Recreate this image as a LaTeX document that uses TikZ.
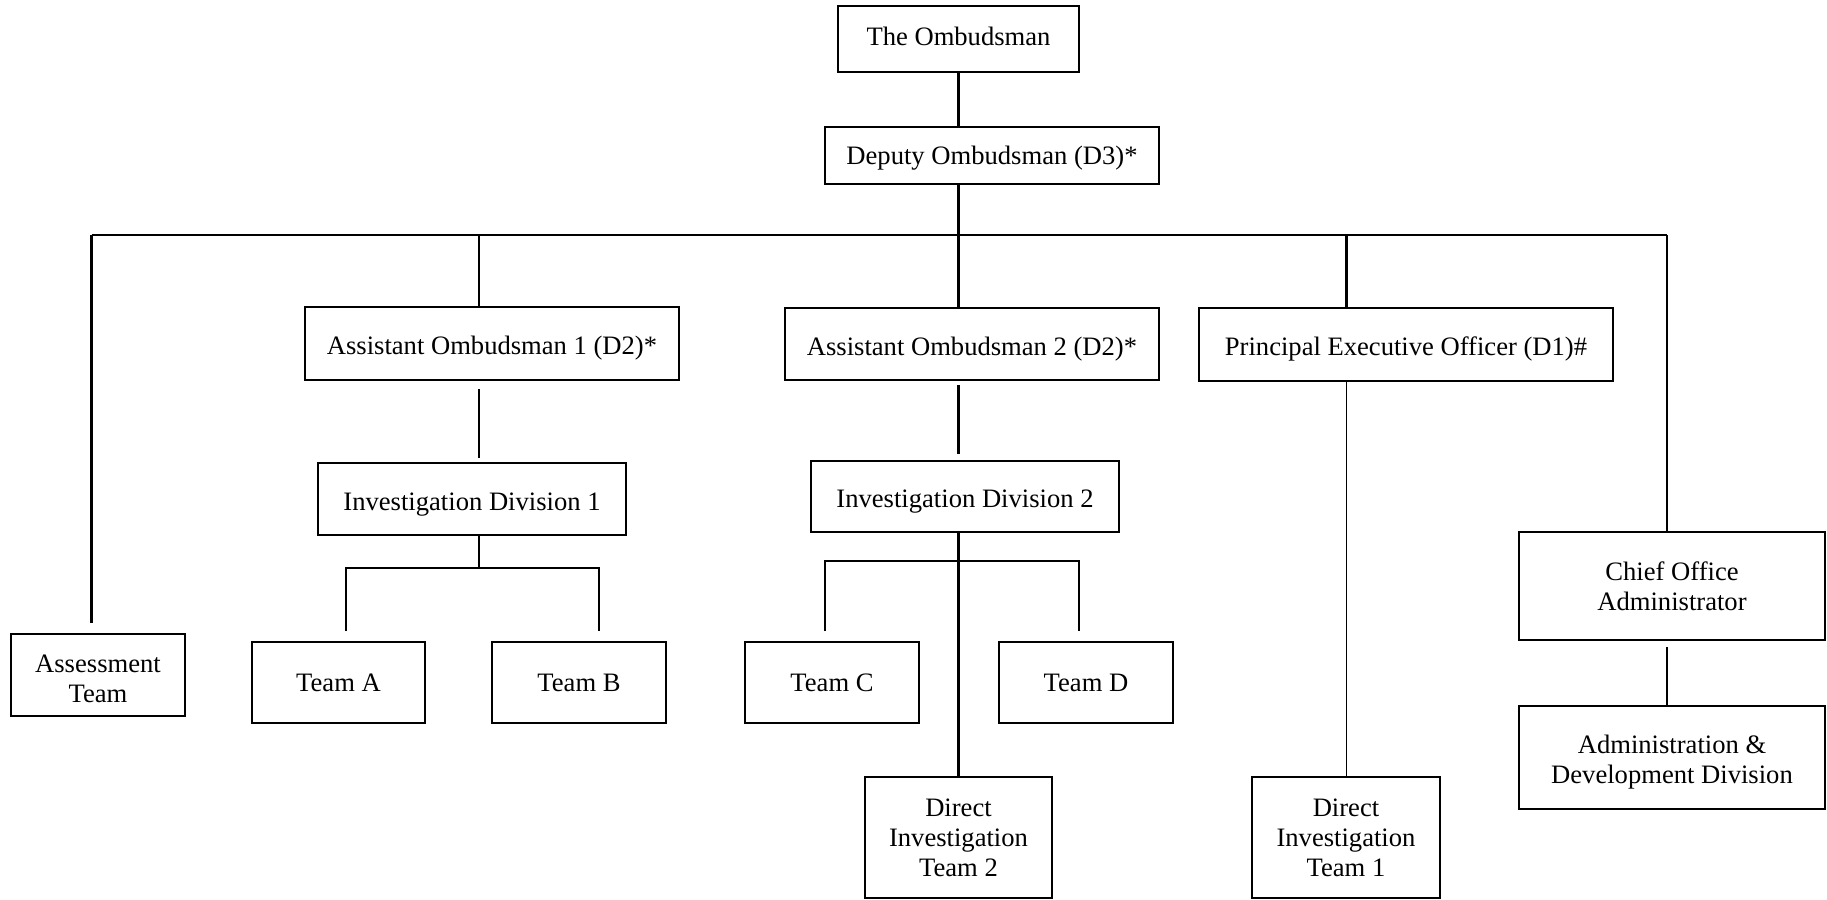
\documentclass[tikz,border=0pt]{standalone}
\usepackage{fontspec}
\setmainfont{Liberation Serif}
\usetikzlibrary{positioning, calc}
\tikzset{
  box/.style={rectangle, draw=black, line width=1pt, align=center,
    inner sep=2pt, font=\fontsize{13.3}{15}\selectfont},
  line/.style={line width=1.1pt, color=black},
  thinline/.style={line width=0.6pt, color=black}
}
% move a label inside its box without changing the box
\newcommand{\shiftlabel}[2]{\raisebox{#1}[\height][\depth]{#2}}

\begin{document}
\begin{tikzpicture}[x=0.5pt, y=-0.5pt]
  \useasboundingbox (0,0) rectangle (1827,900);
  % Top of the chart
  \node[box, minimum width=120.5pt, minimum height=33pt] (omb) at (958.5,39) {\shiftlabel{1.2pt}{The Ombudsman}};
  \node[box, minimum width=167pt, minimum height=28.5pt] (dep) at (992,155.5) {\shiftlabel{-1.2pt}{Deputy Ombudsman (D3)*}};
  % Second level
  \node[box, minimum width=187pt, minimum height=36.5pt] (ao1) at (492,343.5) {\shiftlabel{-2.3pt}{Assistant Ombudsman 1 (D2)*}};
  \node[box, minimum width=187pt, minimum height=36pt] (ao2) at (972,344) {\shiftlabel{-2.3pt}{Assistant Ombudsman 2 (D2)*}};
  \node[box, minimum width=207pt, minimum height=36.5pt] (peo) at (1406,344) {\shiftlabel{-2.3pt}{Principal Executive Officer (D1)\#}};
  % Divisions
  \node[box, minimum width=154pt, minimum height=36pt] (id1) at (472,499) {\shiftlabel{-2.6pt}{Investigation Division 1}};
  \node[box, minimum width=154pt, minimum height=35.5pt] (id2) at (965,496.5) {\shiftlabel{-2.6pt}{Investigation Division 2}};
  \node[box, minimum width=153pt, minimum height=54pt] (coa) at (1672,586) {Chief Office\\Administrator};
  \node[box, minimum width=153pt, minimum height=51.5pt] (add) at (1672,757) {\shiftlabel{-2.3pt}{Administration \&}\\\shiftlabel{-2.3pt}{Development Division}};
  % Teams
  \node[box, minimum width=87pt, minimum height=41pt] (assess) at (98,675) {\shiftlabel{-1.7pt}{Assessment}\\\shiftlabel{-1.7pt}{Team}};
  \node[box, minimum width=86.5pt, minimum height=40.5pt] (teamA) at (338.5,682.5) {Team A};
  \node[box, minimum width=87pt, minimum height=40.5pt] (teamB) at (579,682.5) {Team B};
  \node[box, minimum width=87pt, minimum height=40.5pt] (teamC) at (832,682.5) {Team C};
  \node[box, minimum width=87pt, minimum height=40.5pt] (teamD) at (1086,682.5) {Team D};
  \node[box, minimum width=93.5pt, minimum height=60.5pt] (dit2) at (958.5,837.5) {Direct\\Investigation\\Team 2};
  \node[box, minimum width=94pt, minimum height=60.5pt] (dit1) at (1346,837.5) {Direct\\Investigation\\Team 1};
  % Main bus
  \coordinate (busL) at (91.5,235);
  \coordinate (busR) at (1667,235);
  \coordinate (s1) at (479,235);
  \coordinate (s2) at (958.5,235);
  \coordinate (s3) at (1346.5,235);
  \draw[line] (busL) -- (busR);
  \draw[line] (omb.south) -- (omb.south |- dep.north);
  \draw[line] (omb.south |- dep.south) -- (s2);
  \draw[line, shorten >=5pt] (busL) -- (busL |- assess.north);
  \draw[line] (s1) -- (s1 |- ao1.north);
  \draw[line] (s2) -- (s2 |- ao2.north);
  \draw[line] (s3) -- (s3 |- peo.north);
  \draw[line] (busR) -- (busR |- coa.north);
  % Lower links
  \draw[line, shorten <=4pt, shorten >=2pt] (s1 |- ao1.south) -- (s1 |- id1.north);
  \draw[line, shorten <=2pt, shorten >=3pt] (s2 |- ao2.south) -- (s2 |- id2.north);
  \draw[thinline] (s3 |- peo.south) -- (dit1.north -| s3);
  \draw[line, line width=0.8pt, shorten <=3pt] (busR |- coa.south) -- (busR |- add.north);
  % Team branches
  \coordinate (t1) at (479,568);
  \coordinate (t1a) at (346,568);
  \coordinate (t1b) at (599,568);
  \coordinate (t2a) at (825,561);
  \coordinate (t2b) at (1079,561);
  \draw[line] (s1 |- id1.south) -- (t1);
  \draw[line] ([yshift=5pt]t1a |- teamA.north) -- (t1a) -- (t1b) -- ([yshift=5pt]t1b |- teamB.north);
  \draw[line] ([yshift=5pt]t2a |- teamC.north) -- (t2a) -- (t2b) -- ([yshift=5pt]t2b |- teamD.north);
  \draw[line] (s2 |- id2.south) -- (dit2.north);
\end{tikzpicture}
\end{document}
